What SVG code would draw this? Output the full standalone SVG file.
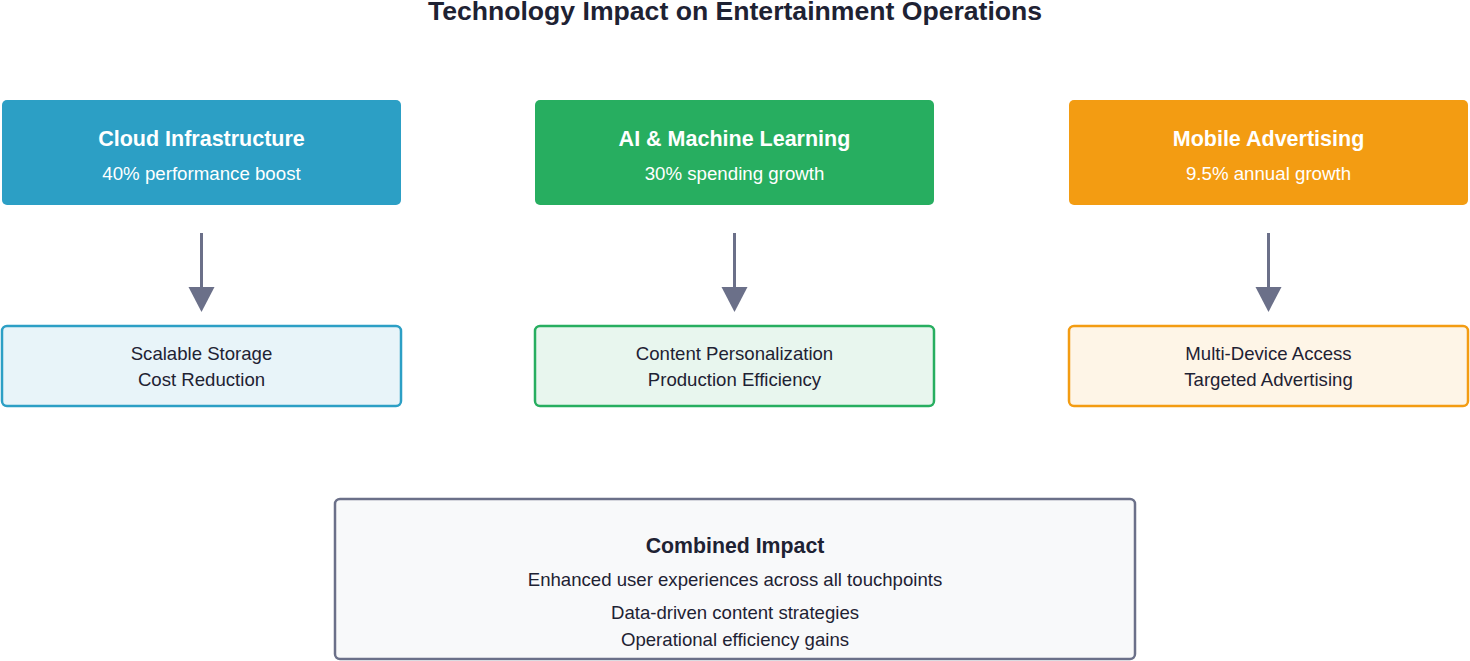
<svg xmlns="http://www.w3.org/2000/svg" width="1470" height="661" viewBox="0 0 1470 661">
<defs>
<style>
text{font-family:"Liberation Sans",Arial,sans-serif;text-anchor:middle}
.title{font-size:26.6px;font-weight:bold;fill:#1e2233}
.h{font-size:21.5px;font-weight:bold;fill:#ffffff}
.s{font-size:18.7px;fill:#ffffff}
.d{font-size:18.6px;fill:#1e2233}
.ch{font-size:21.3px;font-weight:bold;fill:#1e2233}
.arrow{stroke:#6b7089;stroke-width:3;fill:none}
.head{fill:#6b7089}
</style>
</defs>
<rect width="1470" height="661" fill="#ffffff"/>
<text class="title" x="735" y="20">Technology Impact on Entertainment Operations</text>
<g id="cloud">
<rect x="2" y="100" width="399" height="105" rx="5" fill="#2c9fc5"/>
<text class="h" x="201.5" y="146">Cloud Infrastructure</text>
<text class="s" x="201.5" y="180">40% performance boost</text>
</g>
<g id="ai">
<rect x="535" y="100" width="399" height="105" rx="5" fill="#27ae60"/>
<text class="h" x="734.5" y="146">AI &amp; Machine Learning</text>
<text class="s" x="734.5" y="180">30% spending growth</text>
</g>
<g id="mobile">
<rect x="1069" y="100" width="399" height="105" rx="5" fill="#f39c12"/>
<text class="h" x="1268.5" y="146">Mobile Advertising</text>
<text class="s" x="1268.5" y="180">9.5% annual growth</text>
</g>
<g id="cloud-benefits">
<rect x="2" y="326" width="399" height="80" rx="5" fill="#e8f4f9" stroke="#2c9fc5" stroke-width="2.5"/>
<text class="d" x="201.5" y="360">Scalable Storage</text>
<text class="d" x="201.5" y="386">Cost Reduction</text>
</g>
<g id="ai-benefits">
<rect x="535" y="326" width="399" height="80" rx="5" fill="#e8f6ee" stroke="#27ae60" stroke-width="2.5"/>
<text class="d" x="734.5" y="360">Content Personalization</text>
<text class="d" x="734.5" y="386">Production Efficiency</text>
</g>
<g id="mobile-benefits">
<rect x="1069" y="326" width="399" height="80" rx="5" fill="#fef5e7" stroke="#f39c12" stroke-width="2.5"/>
<text class="d" x="1268.5" y="360">Multi-Device Access</text>
<text class="d" x="1268.5" y="386">Targeted Advertising</text>
</g>
<g id="combined">
<rect x="335" y="499" width="800" height="160" rx="5" fill="#f8f9fa" stroke="#6b7089" stroke-width="2.5"/>
<text class="ch" x="735" y="553">Combined Impact</text>
<text class="d" x="735" y="586">Enhanced user experiences across all touchpoints</text>
<text class="d" x="735" y="619">Data-driven content strategies</text>
<text class="d" x="735" y="646">Operational efficiency gains</text>
</g>
<g id="connectors">
<line class="arrow" x1="201.5" y1="233" x2="201.5" y2="290"/>
<path class="head" d="M188.5,287 L214.5,287 L201.5,312 Z"/>
<line class="arrow" x1="734.5" y1="233" x2="734.5" y2="290"/>
<path class="head" d="M721.5,287 L747.5,287 L734.5,312 Z"/>
<line class="arrow" x1="1268.5" y1="233" x2="1268.5" y2="290"/>
<path class="head" d="M1255.5,287 L1281.5,287 L1268.5,312 Z"/>
</g>
</svg>
